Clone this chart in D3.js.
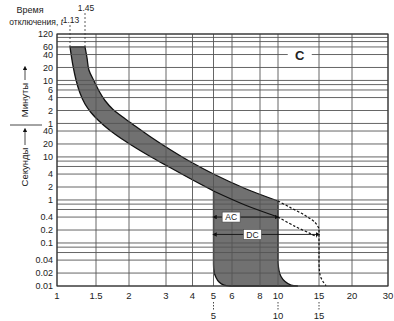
<!DOCTYPE html>
<html>
<head>
<meta charset="utf-8">
<script src="https://cdn.jsdelivr.net/npm/d3@7"></script>
<style>
  body { margin: 0; background: #fff; }
  svg { display: block; font-family: "Liberation Sans", Arial, sans-serif; }
</style>
</head>
<body>
<svg id="chart" width="394" height="321"></svg>
<script>
// x: multiples of rated current In
const xTicks = [1, 1.5, 2, 3, 4, 5, 6, 8, 10, 15, 20, 30];
const xMarks = [1.13, 1.45];
const magLimits = [5, 10, 15];

// y: trip time; minutes part and seconds part of the same log axis
const minuteLabels = [1, 2, 4, 6, 10, 20, 40, 60, 120];
const minuteGrid = [1, 2, 4, 6, 8, 10, 20, 40, 60, 80, 100, 120];
const secondLabels = [0.01, 0.02, 0.04, 0.1, 0.2, 0.4, 1, 2, 4, 10, 20, 40];
const secondGrid = [0.01, 0.02, 0.04, 0.06, 0.08, 0.1, 0.2, 0.4, 0.6, 0.8, 1, 2, 4, 6, 8, 10, 20, 40];

// thermal band [multiple, seconds]
const thermalMin = [[1.13, 3600], [1.188, 1300], [1.249, 614], [1.334, 306], [1.45, 170], [1.477, 108],
  [1.54, 68.4], [1.695, 41.2], [1.882, 26.1], [2.159, 16.1], [2.573, 9.7], [3.133, 5.68], [3.893, 3.15], [5, 1.615]];
const thermalMax = [[1.45, 3600], [1.459, 1995], [1.4675, 1050], [1.491, 582], [1.54, 341], [1.622, 205],
  [1.74, 127], [1.882, 87.1], [2.09, 56.8], [2.518, 29.9], [3.133, 14.9], [3.893, 7.83], [5, 4.01], [6.857, 1.846], [10, 0.946]];
const thermalMinInner = [[5, 1.615], [6.857, 0.764], [10, 0.402]];
// magnetic release corners
const magMinCorner = [[5, 0.032], [5.025, 0.0217], [5.125, 0.0158], [5.28, 0.0124], [5.545, 0.0105], [5.88, 0.01]];
const magMaxCorner = [[10, 0.035], [10.1, 0.0229], [10.3, 0.0166], [10.72, 0.0127], [11.37, 0.0105], [12.18, 0.01]];
// DC extension (dashed)
const dcUpper = [[10, 0.946], [11.26, 0.672], [13.06, 0.438], [14.42, 0.301], [15, 0.218]];
const dcLower = [[10, 0.402], [11.83, 0.243], [13.72, 0.167], [14.7, 0.138]];
const dcCorner = [[15, 0.035], [15.05, 0.0229], [15.2, 0.0166], [15.53, 0.0127], [15.94, 0.0102]];

const svg = d3.select('#chart');
const ink = '#222';
const gridInk = '#555';

// the printed x axis is not a clean log axis, so it is fitted piecewise to its grid
const x = d3.scaleLog()
  .domain([1, 1.13, 1.45, 1.5, 2, 3, 4, 5, 6, 8, 10, 15, 20, 30])
  .range([57, 70, 85, 96, 129, 166, 192.5, 213.5, 232, 260, 278, 319, 352, 388]);
const y = d3.scaleLog().domain([0.01, 7200]).range([286, 34]);

const lineCurve = d3.line().x(d => x(d[0])).y(d => y(d[1])).curve(d3.curveCatmullRom.alpha(0.5));
const lineStraight = d3.line().x(d => x(d[0])).y(d => y(d[1]));

function join(parts) {
  return parts.map((p, i) => i === 0 ? p : p.replace(/^M/, 'L')).join('');
}
const rev = a => a.slice().reverse();
const last = a => a[a.length - 1];

// shaded area
const areaPath = join([
  lineCurve(thermalMin),
  lineCurve(magMinCorner),
  lineStraight([last(magMinCorner), last(magMaxCorner)]),
  lineCurve(rev(magMaxCorner)),
  lineCurve(rev(thermalMax))
]) + 'Z';

svg.append('path')
  .attr('d', areaPath)
  .attr('fill', '#717171')
  .attr('stroke', '#111')
  .attr('stroke-width', 1.3);

// grid
const allGridY = secondGrid.concat(minuteGrid.map(m => m * 60));
svg.append('g').selectAll('line').data(allGridY).join('line')
  .attr('x1', x(1)).attr('x2', x(30))
  .attr('y1', d => y(d)).attr('y2', d => y(d))
  .attr('stroke', gridInk).attr('stroke-width', 0.9);

svg.append('g').selectAll('line').data(xTicks).join('line')
  .attr('x1', d => x(d)).attr('x2', d => x(d))
  .attr('y1', y(7200)).attr('y2', y(0.01))
  .attr('stroke', gridInk).attr('stroke-width', 0.9);

svg.append('rect')
  .attr('x', x(1)).attr('y', y(7200))
  .attr('width', x(30) - x(1)).attr('height', y(0.01) - y(7200))
  .attr('fill', 'none').attr('stroke', '#333').attr('stroke-width', 1.1);

// inner thermal line and DC extension
svg.append('path').attr('d', lineCurve(thermalMinInner))
  .attr('fill', 'none').attr('stroke', '#111').attr('stroke-width', 1.2);

const dcUpperPath = join([lineCurve(dcUpper), lineStraight([last(dcUpper), dcCorner[0]]), lineCurve(dcCorner)]);
[dcUpperPath, lineCurve(dcLower)].forEach(d => {
  svg.append('path').attr('d', d)
    .attr('fill', 'none').attr('stroke', '#111').attr('stroke-width', 1.2)
    .attr('stroke-dasharray', '2.5,1.8');
});

// marks for 1.13 and 1.45
svg.append('g').selectAll('line').data(xMarks).join('line')
  .attr('x1', d => x(d)).attr('x2', d => x(d))
  .attr('y1', (d, i) => i === 0 ? 25 : 13).attr('y2', y(3600))
  .attr('stroke', '#333').attr('stroke-width', 0.8).attr('stroke-dasharray', '2,2');
svg.append('g').selectAll('text').data(xMarks).join('text')
  .attr('x', d => x(d) + 1).attr('y', (d, i) => i === 0 ? 23 : 11)
  .attr('text-anchor', 'middle').attr('font-size', 8.5).attr('fill', ink)
  .text(d => d.toFixed(2));

svg.append('text').attr('x', 30).attr('y', 13)
  .attr('text-anchor', 'middle').attr('font-size', 9).attr('fill', ink).text('Время');
const tl = svg.append('text').attr('x', 63).attr('y', 25)
  .attr('text-anchor', 'end').attr('font-size', 8.5).attr('fill', ink);
tl.append('tspan').text('отключения, ');
tl.append('tspan').attr('font-style', 'italic').text('t');

// y labels
svg.append('g').selectAll('text').data(minuteLabels.map(m => [m, m * 60]).concat(secondLabels.map(s => [s, s])))
  .join('text')
  .attr('x', 53).attr('y', d => y(d[1]) + 3.2)
  .attr('text-anchor', 'end').attr('font-size', 9).attr('fill', ink)
  .text(d => d[0]);

// x labels
svg.append('g').selectAll('text').data(xTicks).join('text')
  .attr('x', d => x(d)).attr('y', 299)
  .attr('text-anchor', 'middle').attr('font-size', 9.5).attr('fill', ink)
  .text(d => d);

svg.append('g').selectAll('line').data(magLimits).join('line')
  .attr('x1', d => x(d)).attr('x2', d => x(d))
  .attr('y1', 302).attr('y2', 311)
  .attr('stroke', '#333').attr('stroke-width', 0.9).attr('stroke-dasharray', '1.5,1.5');
svg.append('g').selectAll('text').data(magLimits).join('text')
  .attr('x', d => x(d)).attr('y', 319)
  .attr('text-anchor', 'middle').attr('font-size', 9.5).attr('fill', ink)
  .text(d => d);

// axis side captions
const defs = svg.append('defs');
defs.append('marker').attr('id', 'head')
  .attr('viewBox', '0 0 10 10').attr('refX', 5).attr('refY', 5)
  .attr('markerWidth', 5).attr('markerHeight', 5).attr('orient', 'auto-start-reverse')
  .append('path').attr('d', 'M0,0L10,5L0,10Z').attr('fill', '#111');

svg.append('line').attr('x1', 25).attr('x2', 25).attr('y1', 80).attr('y2', 68)
  .attr('stroke', '#333').attr('stroke-width', 0.9).attr('marker-end', 'url(#head)');
svg.append('text').attr('transform', 'translate(28,100) rotate(-90)')
  .attr('text-anchor', 'middle').attr('font-size', 9.5).attr('fill', ink).text('Минуты');
svg.append('line').attr('x1', 10).attr('x2', 42).attr('y1', 125).attr('y2', 125)
  .attr('stroke', '#333').attr('stroke-width', 0.9);
svg.append('line').attr('x1', 25).attr('x2', 25).attr('y1', 145).attr('y2', 130)
  .attr('stroke', '#333').attr('stroke-width', 0.9).attr('marker-end', 'url(#head)');
svg.append('text').attr('transform', 'translate(28,167) rotate(-90)')
  .attr('text-anchor', 'middle').attr('font-size', 9.5).attr('fill', ink).text('Секунды');

// AC / DC ranges
const ranges = [{ name: 'AC', from: 5, to: 10, t: 0.4, at: 5.95 }, { name: 'DC', from: 5, to: 15, t: 0.158, at: 7.4 }];
ranges.forEach(r => {
  svg.append('line')
    .attr('x1', x(r.from) + 1).attr('x2', x(r.to) - 1)
    .attr('y1', y(r.t)).attr('y2', y(r.t))
    .attr('stroke', '#111').attr('stroke-width', 0.9)
    .attr('marker-start', 'url(#head)').attr('marker-end', 'url(#head)');
  svg.append('rect')
    .attr('x', x(r.at) - 9).attr('y', y(r.t) - 5)
    .attr('width', 18).attr('height', 10)
    .attr('fill', '#fff').attr('stroke', '#444').attr('stroke-width', 0.6);
  svg.append('text')
    .attr('x', x(r.at)).attr('y', y(r.t) + 3.2)
    .attr('text-anchor', 'middle').attr('font-size', 8.5).attr('fill', ink)
    .text(r.name);
});

// characteristic letter
svg.append('rect').attr('x', x(12.4) - 12).attr('y', y(2400) - 5).attr('width', 24).attr('height', 11).attr('fill', '#fff');
svg.append('text').attr('x', x(12.4)).attr('y', y(2400) + 5)
  .attr('text-anchor', 'middle').attr('font-size', 13).attr('font-weight', 'bold').attr('fill', ink)
  .text('C');
</script>
</body>
</html>
